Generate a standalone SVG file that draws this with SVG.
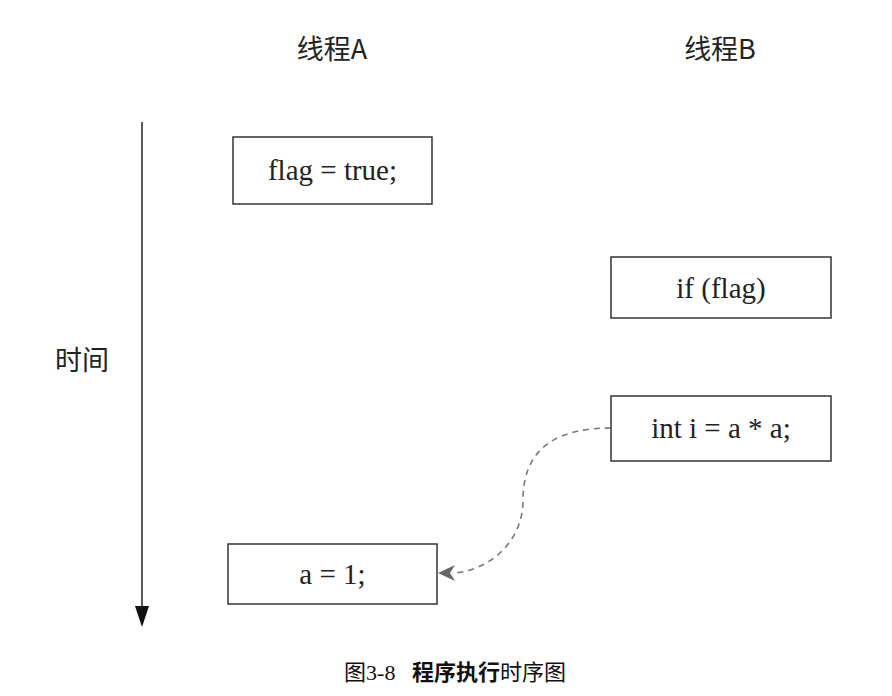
<svg xmlns="http://www.w3.org/2000/svg" width="892" height="696" viewBox="0 0 892 696">
<style>
.box{fill:#fff;stroke:#333;stroke-width:1.5}
.t{font-family:"Liberation Serif","Noto Sans CJK SC",serif;font-size:29px;fill:#222;text-anchor:middle}
.h{font-family:"Noto Sans CJK SC",sans-serif;font-size:27px;fill:#222;text-anchor:middle}
.c{font-family:"Liberation Serif","Noto Sans CJK SC",serif;font-size:22px;fill:#111;text-anchor:middle}
</style>
<text class="h" x="332" y="59">线程A</text>
<text class="h" x="720" y="59">线程B</text>
<text class="h" x="82" y="370">时间</text>
<g id="connectors">
<line x1="142" y1="122" x2="142" y2="608" stroke="#222" stroke-width="1.5"/>
<path d="M135,606 L149,606 L142,627 Z" fill="#111"/>
<path d="M611,428 C 545,428 523,458 523,500 C 523,545 485,572 452,573" fill="none" stroke="#777" stroke-width="1.6" stroke-dasharray="6,5"/>
<path d="M438,573 L455,565 L450,573 L455,581 Z" fill="#666"/>
</g>
<g id="n1"><rect class="box" x="233" y="137" width="199" height="67"/><text class="t" x="332.5" y="180">flag = true;</text></g>
<g id="n2"><rect class="box" x="611" y="257" width="220" height="61"/><text class="t" x="721" y="298">if (flag)</text></g>
<g id="n3"><rect class="box" x="611" y="396" width="220" height="65"/><text class="t" x="721" y="438">int i = a * a;</text></g>
<g id="n4"><rect class="box" x="228" y="544" width="209" height="60"/><text class="t" x="332.5" y="584">a = 1;</text></g>
<text class="c" x="455" y="680">图3-8&#160;&#160;&#160;<tspan font-weight="bold">程序执行</tspan>时序图</text>
</svg>
